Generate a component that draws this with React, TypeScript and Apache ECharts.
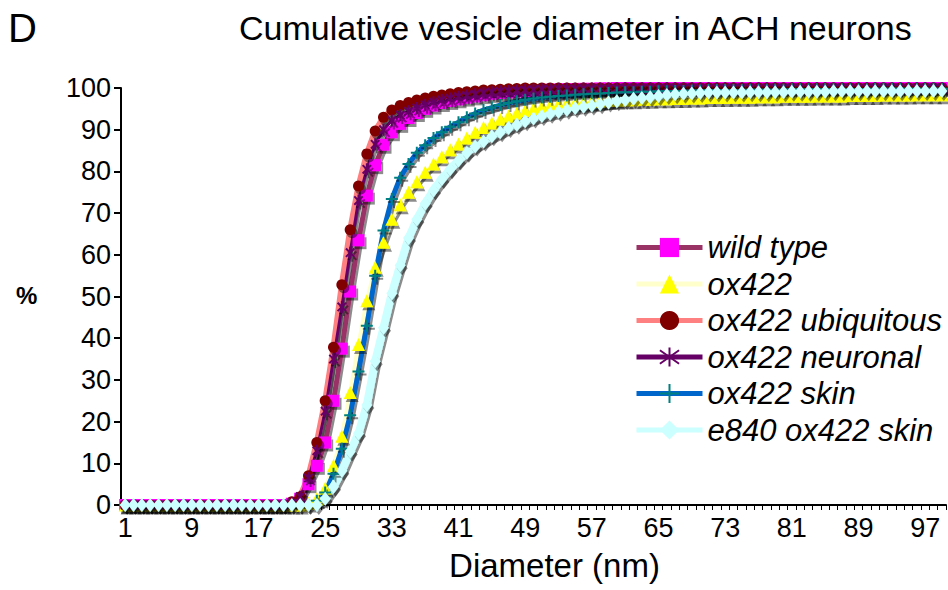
import React, { useEffect, useRef } from "react";
import * as echarts from "echarts";

const categories = [
  "1","2","3","4","5","6","7","8","9","10","11","12","13","14","15","16","17","18","19","20",
  "21","22","23","24","25","26","27","28","29","30","31","32","33","34","35","36","37","38","39","40",
  "41","42","43","44","45","46","47","48","49","50","51","52","53","54","55","56","57","58","59","60",
  "61","62","63","64","65","66","67","68","69","70","71","72","73","74","75","76","77","78","79","80",
  "81","82","83","84","85","86","87","88","89","90","91","92","93","94","95","96","97","98","99",
];

const wildType = [
  0,0,0,0,0,0,0,0,0,0,0,0,0,0,0,0,0,0,0,0,
  0.3,1.5,5,9.4,15,25,37.5,51.2,63.5,74.2,81.5,86.4,89.4,91.4,92.8,94,95,95.8,96.4,96.9,
  97.3,97.7,98,98.3,98.6,98.8,99,99.2,99.3,99.4,99.5,99.6,99.6,99.7,99.7,99.8,99.8,99.9,99.9,100,
  100,100,100,100,100,100,100,100,100,100,100,100,100,100,100,100,100,100,100,100,
  100,100,100,100,100,100,100,100,100,100,100,100,100,100,100,100,100,100,100,
];

const ox422 = [
  0,0,0,0,0,0,0,0,0,0,0,0,0,0,0,0,0,0,0,0,
  0,0,0.5,1.5,4,9.5,16.5,27,38.5,49,57,63,68.5,72,75,77.5,79.8,81.8,83.5,85.2,
  86.6,88,89.4,90.5,91.6,92.5,93.3,94,94.6,95.1,95.5,95.8,96.1,96.3,96.5,96.6,96.8,96.9,97,97.1,
  97.2,97.2,97.3,97.3,97.4,97.4,97.5,97.5,97.6,97.6,97.7,97.7,97.7,97.8,97.8,97.8,97.9,97.9,97.9,98,
  98,98,98,98.1,98.1,98.1,98.1,98.2,98.2,98.2,98.2,98.3,98.3,98.3,98.3,98.4,98.4,98.4,98.4,
];

const ubiquitous = [
  0,0,0,0,0,0,0,0,0,0,0,0,0,0,0,0,0,0,0,0,
  0.8,2,7,15,25,37.8,52.8,66,76.5,84.2,89.7,93,94.7,95.8,96.5,97.1,97.6,98,98.3,98.6,
  98.9,99.1,99.3,99.5,99.6,99.7,99.8,99.9,100,100,100,100,100,100,100,100,100,100,100,100,
  100,100,100,100,100,100,100,100,100,100,100,100,100,100,100,100,100,100,100,100,
  100,100,100,100,100,100,100,100,100,100,100,100,100,100,100,100,100,100,100,
];

const neuronal = [
  0,0,0,0,0,0,0,0,0,0,0,0,0,0,0,0,0,0,0,0,
  0.5,2,6.5,13,22.5,35,47.5,60.5,73,80.5,86.5,90,92.2,93.5,94.4,95.2,96,96.6,97.1,97.5,
  97.9,98.2,98.5,98.8,99,99.2,99.3,99.4,99.5,99.6,99.7,99.7,99.8,99.8,99.8,99.9,99.9,99.9,99.9,99.9,
  100,100,100,100,100,100,100,100,100,100,100,100,100,100,100,100,100,100,100,100,
  100,100,100,100,100,100,100,100,100,100,100,100,100,100,100,100,100,100,100,
];

const skin = [
  0,0,0,0,0,0,0,0,0,0,0,0,0,0,0,0,0,0,0,0,
  0,0,0,1,3,7.5,13.5,21.5,32,43,55,65.8,73.4,78.5,81.8,84.5,86.3,88,89.4,90.7,
  91.8,93,93.9,94.7,95.3,95.9,96.4,96.8,97.2,97.5,97.7,97.9,98.1,98.2,98.4,98.5,98.6,98.7,98.8,98.9,
  99,99,99.1,99.1,99.2,99.2,99.3,99.3,99.4,99.4,99.5,99.5,99.5,99.5,99.5,99.6,99.6,99.6,99.6,99.6,
  99.7,99.7,99.7,99.7,99.7,99.7,99.7,99.7,99.7,99.7,99.8,99.8,99.8,99.8,99.8,99.8,99.8,99.8,99.8,
];

const e840Skin = [
  0,0,0,0,0,0,0,0,0,0,0,0,0,0,0,0,0,0,0,0,
  0,0,0,0,1.5,4.4,8.2,12.8,17.2,24,34.5,42.5,50.8,57.5,64,68.5,72.3,75.5,78.2,80.5,
  82.6,84.5,86,87.2,88.4,89.4,90.4,91.2,92,92.7,93.3,93.8,94.3,94.8,95.2,95.5,95.8,96.1,96.5,96.8,
  97.1,97.4,97.6,97.8,98.1,98.3,98.5,98.6,98.7,98.8,98.9,98.9,98.9,98.9,98.9,99,99,99,99,99,
  99.1,99.1,99.1,99.1,99.1,99.2,99.2,99.2,99.2,99.2,99.2,99.2,99.2,99.2,99.3,99.3,99.3,99.3,99.3,
];

const yTicks = [0, 10, 20, 30, 40, 50, 60, 70, 80, 90, 100];

const FONT = "'Liberation Sans', Arial, sans-serif";
const SHADOW = {
  shadowColor: "rgba(0,0,0,0.45)",
  shadowOffsetX: 2,
  shadowOffsetY: 3,
  shadowBlur: 0,
};
const NO_SHADOW = {
  shadowColor: "rgba(0,0,0,0)",
  shadowOffsetX: 0,
  shadowOffsetY: 0,
  shadowBlur: 0,
};

const ASTERISK = "path://M5,0L5,10M1.5,1.5L8.5,8.5M1.5,8.5L8.5,1.5";
const PLUS = "path://M5,0L5,10M0,5L10,5";

function makeSeries(
  name: string,
  data: number[],
  lineColor: string,
  lineWidth: number,
  markerColor: string,
  symbol: string,
  symbolSize: number | number[],
  stroked: boolean
) {
  return {
    name,
    type: "line",
    data,
    symbol,
    symbolSize,
    symbolKeepAspect: true,
    showSymbol: true,
    showAllSymbol: true,
    lineStyle: { color: lineColor, width: lineWidth, ...SHADOW },
    itemStyle: stroked
      ? { color: markerColor, borderColor: markerColor, borderWidth: 2, ...SHADOW }
      : { color: markerColor, borderWidth: 0, ...SHADOW },
    emphasis: { disabled: true },
  };
}

export default function App() {
  const ref = useRef<HTMLDivElement>(null);
  useEffect(() => {
    if (!ref.current) return;
    const chart = echarts.init(ref.current, null, { renderer: "svg" });
    chart.setOption({
      animation: false,
      backgroundColor: "#ffffff",
      textStyle: { fontFamily: FONT },
      title: {
        text: "Cumulative vesicle diameter in ACH neurons",
        left: 234,
        top: 5,
        textStyle: { fontFamily: FONT, fontSize: 34, fontWeight: "normal", color: "#000", lineHeight: 36 },
      },
      graphic: [
        {
          type: "text",
          left: 8,
          top: 8,
          style: { text: "D", font: `40px ${FONT}`, fill: "#000" },
        },
        {
          type: "text",
          left: 16,
          top: 283,
          style: { text: "%", font: `bold 24px ${FONT}`, fill: "#000" },
        },
      ],
      legend: {
        orient: "vertical",
        left: 634,
        top: 232,
        padding: 0,
        itemWidth: 66,
        itemHeight: 24,
        itemGap: 5.5,
        data: ["wild type", "ox422", "ox422 ubiquitous", "ox422 neuronal", "ox422 skin", "e840 ox422 skin"],
        textStyle: { fontFamily: FONT, fontSize: 31, fontStyle: "italic", color: "#000", lineHeight: 30 },
        lineStyle: { width: 5, ...NO_SHADOW },
        itemStyle: { ...NO_SHADOW },
        selectedMode: false,
      },
      grid: { left: 121, right: 2, top: 88, bottom: 85 },
      xAxis: {
        type: "category",
        data: categories,
        boundaryGap: true,
        name: "Diameter (nm)",
        nameLocation: "middle",
        nameGap: 44,
        nameTextStyle: { fontFamily: FONT, fontSize: 33, color: "#000", padding: [0, 0, 0, 42] },
        axisLine: { show: true, lineStyle: { color: "#000", width: 2 } },
        axisTick: { show: true, interval: 0, length: 5, lineStyle: { color: "#000", width: 1 } },
        axisLabel: { interval: 7, fontFamily: FONT, fontSize: 27, color: "#000", margin: 9 },
        splitLine: { show: false },
      },
      yAxis: {
        type: "value",
        min: yTicks[0],
        max: yTicks[yTicks.length - 1],
        interval: 10,
        axisLine: { show: true, lineStyle: { color: "#000", width: 2 } },
        axisTick: { show: true, length: 7, lineStyle: { color: "#000", width: 2 } },
        axisLabel: { fontFamily: FONT, fontSize: 27, color: "#000", margin: 10 },
        splitLine: { show: false },
      },
      series: [
        makeSeries("wild type", wildType, "#993366", 5, "#FF00FF", "rect", 12, false),
        makeSeries("ox422", ox422, "#FFFFCC", 4, "#FFFF00", "triangle", 13, false),
        makeSeries("ox422 ubiquitous", ubiquitous, "#FF8080", 6, "#800000", "circle", 11, false),
        makeSeries("ox422 neuronal", neuronal, "#660066", 3, "#660066", ASTERISK, 12, true),
        makeSeries("ox422 skin", skin, "#0066CC", 5, "#008080", PLUS, 12, true),
        makeSeries("e840 ox422 skin", e840Skin, "#CCFFFF", 8, "#CCFFFF", "diamond", [11, 14], false),
      ],
    });
    return () => chart.dispose();
  }, []);
  return (
    <div
      ref={ref}
      style={{ position: "absolute", left: 0, top: 0, width: 948, height: 590, background: "#fff" }}
    />
  );
}
